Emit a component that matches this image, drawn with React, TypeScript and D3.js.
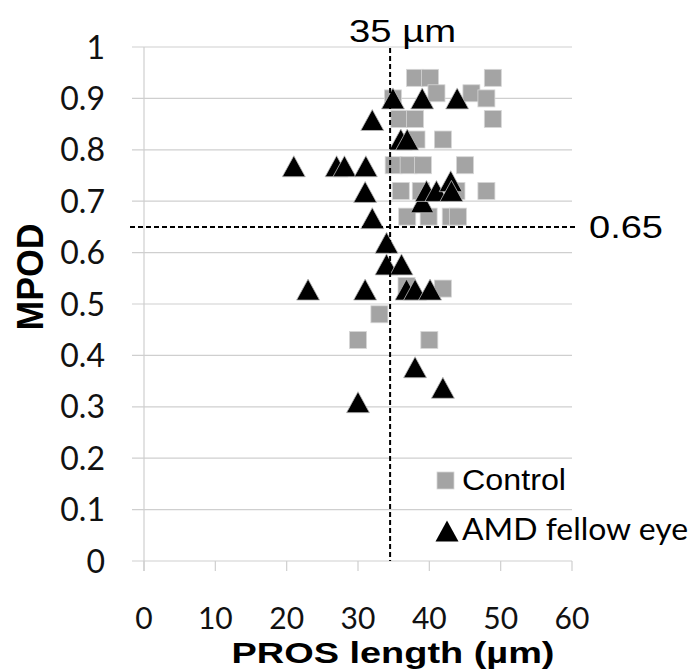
import React from 'react';
import * as d3 from 'd3';

// Control group: PROS length (µm) and MPOD
const controlPros = [38, 40.1, 48.9, 41, 45.9, 48, 34.9, 35.8, 38, 48.9, 38.2, 41.9, 35, 37.1, 39.1, 45, 36, 38.8, 43.8, 48, 36.9, 39.9, 43, 44, 36.8, 41.9, 33, 30, 40];
const controlMpod = [0.94, 0.94, 0.94, 0.91, 0.91, 0.90, 0.90, 0.86, 0.86, 0.86, 0.82, 0.82, 0.77, 0.77, 0.77, 0.77, 0.72, 0.72, 0.72, 0.72, 0.67, 0.67, 0.67, 0.67, 0.535, 0.53, 0.48, 0.43, 0.43];

// AMD fellow eye group
const amdPros = [34.9, 39, 43.9, 32, 36, 36.9, 21, 27, 28.1, 31.1, 31, 32, 39, 39.6, 41, 43, 43.1, 34, 34, 36.1, 23, 31, 36.8, 38, 40.1, 38, 41.9, 30];
const amdMpod = [0.90, 0.90, 0.90, 0.858, 0.82, 0.82, 0.768, 0.768, 0.768, 0.768, 0.718, 0.667, 0.698, 0.72, 0.72, 0.739, 0.72, 0.619, 0.577, 0.577, 0.528, 0.528, 0.528, 0.528, 0.528, 0.377, 0.337, 0.309];

const xTicks = [0, 10, 20, 30, 40, 50, 60];
const yTicks = [0, 0.1, 0.2, 0.3, 0.4, 0.5, 0.6, 0.7, 0.8, 0.9, 1];
const yTickLabels = ['0', '0.1', '0.2', '0.3', '0.4', '0.5', '0.6', '0.7', '0.8', '0.9', '1'];

const prosThreshold = 34.5;
const mpodThreshold = 0.65;
const prosThresholdLabel = '35 µm';
const mpodThresholdLabel = '0.65';
const seriesNames = ['Control', 'AMD fellow eye'];

const W = 694;
const H = 669;

export default function App() {
  const x = d3.scaleLinear().domain([0, 60]).range([144, 572]);
  const y = d3.scaleLinear().domain([0, 1]).range([561, 47]);
  const sq = 17;
  const triPath = (cx: number, cy: number) => {
    const p = d3.path();
    p.moveTo(cx, cy - 10.5);
    p.lineTo(cx + 11.5, cy + 10.5);
    p.lineTo(cx - 11.5, cy + 10.5);
    p.closePath();
    return p.toString();
  };
  const grid = '#cfcfcf';
  const tickFont = 'Lato, "Open Sans", sans-serif';
  const arial = '"Liberation Sans", Arial, sans-serif';

  return (
    <svg width={W} height={H} style={{ position: 'absolute', left: 0, top: 0, background: '#fff' }}>
      {/* gridlines */}
      {yTicks.map((t) => (
        <line key={'g' + t} x1={132} x2={x(60)} y1={y(t)} y2={y(t)} stroke={grid} strokeWidth={1.2} />
      ))}
      {/* y axis line */}
      <line x1={x(0)} x2={x(0)} y1={y(1)} y2={y(0) + 10} stroke={grid} strokeWidth={1.2} />
      {/* x ticks */}
      {xTicks.map((t) => (
        <line key={'xt' + t} x1={x(t)} x2={x(t)} y1={y(0)} y2={y(0) + 10} stroke={grid} strokeWidth={1.2} />
      ))}
      {/* y tick labels */}
      {yTicks.map((t, i) => (
        <text key={'yl' + t} x={105} y={y(t)} dy="0.36em" textAnchor="end" fontFamily={tickFont} fontSize={32} fill="#111">
          {yTickLabels[i]}
        </text>
      ))}
      {/* x tick labels */}
      {xTicks.map((t) => (
        <text key={'xl' + t} x={x(t)} y={629} textAnchor="middle" fontFamily={tickFont} fontSize={30} fill="#111">
          {String(t)}
        </text>
      ))}
      {/* control squares */}
      {controlPros.map((v, i) => (
        <rect key={'c' + i} x={x(v) - sq / 2} y={y(controlMpod[i]) - sq / 2} width={sq} height={sq} fill="#a4a4a4" stroke="#d6d6d6" strokeWidth={0.8} />
      ))}
      {/* AMD triangles */}
      {amdPros.map((v, i) => (
        <path key={'a' + i} d={triPath(x(v), y(amdMpod[i]))} fill="#000" stroke="#bdbdbd" strokeWidth={0.8} />
      ))}
      {/* threshold lines */}
      <line x1={x(prosThreshold)} x2={x(prosThreshold)} y1={48} y2={y(0)} stroke="#000" strokeWidth={2} strokeDasharray="5,3" />
      <line x1={130} x2={578} y1={y(mpodThreshold)} y2={y(mpodThreshold)} stroke="#000" strokeWidth={2} strokeDasharray="5,3" />
      <text x={349} y={42} fontFamily={arial} fontSize={32} textLength={107} lengthAdjust="spacingAndGlyphs" fill="#000">
        {prosThresholdLabel}
      </text>
      <text x={589} y={238} fontFamily={arial} fontSize={32} textLength={74} lengthAdjust="spacingAndGlyphs" fill="#000">
        {mpodThresholdLabel}
      </text>
      {/* legend */}
      <rect x={437} y={472} width={17} height={17} fill="#a4a4a4" stroke="#d6d6d6" strokeWidth={0.8} />
      <text x={462} y={490} fontFamily={arial} fontSize={30} textLength={104} lengthAdjust="spacingAndGlyphs" fill="#000">
        {seriesNames[0]}
      </text>
      <path d={triPath(447, 531)} fill="#000" />
      <text x={462} y={540} fontFamily={tickFont} fontSize={30} textLength={226} lengthAdjust="spacingAndGlyphs" fill="#000">
        {seriesNames[1]}
      </text>
      {/* axis titles */}
      <text x={393} y={663} textAnchor="middle" fontFamily={arial} fontWeight="bold" fontSize={30} textLength={323} lengthAdjust="spacingAndGlyphs" fill="#000">
        PROS length (µm)
      </text>
      <text transform="translate(43,277) rotate(-90)" textAnchor="middle" fontFamily={arial} fontWeight="bold" fontSize={36} textLength={107} lengthAdjust="spacingAndGlyphs" fill="#000">
        MPOD
      </text>
    </svg>
  );
}
